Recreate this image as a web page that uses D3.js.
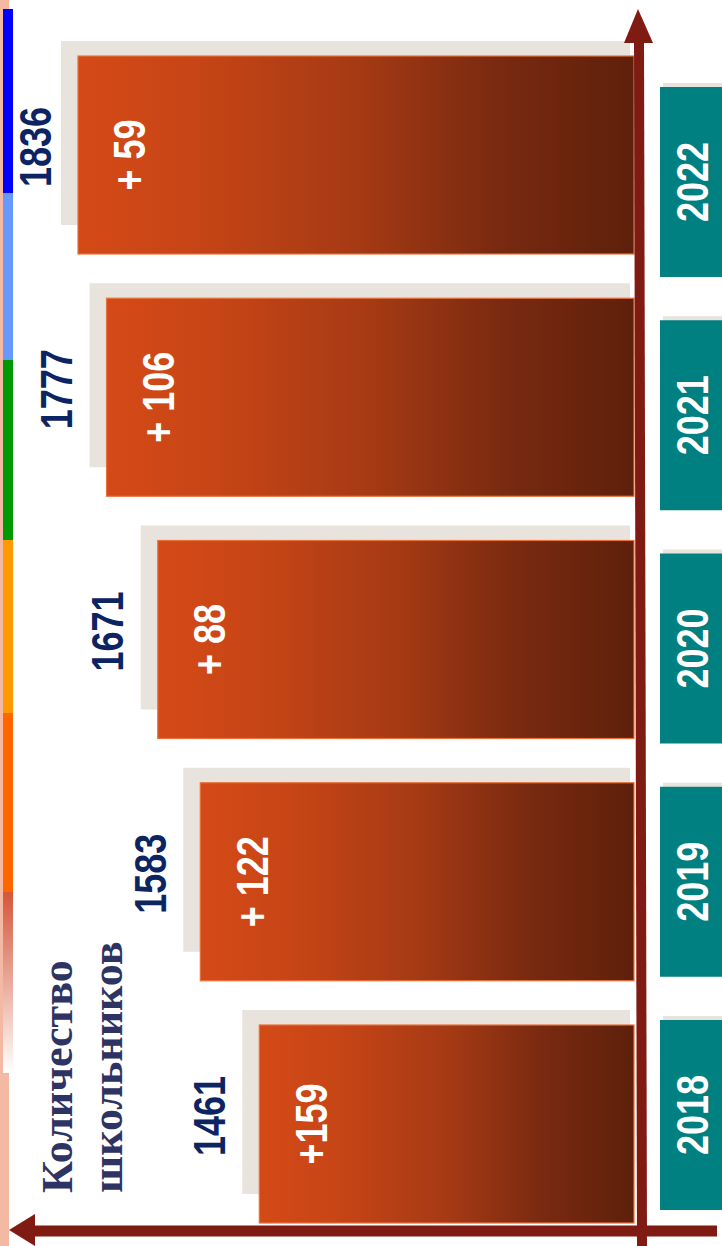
<!DOCTYPE html>
<html>
<head>
<meta charset="utf-8" />
<title>Количество школьников</title>
<script src="https://cdn.jsdelivr.net/npm/d3@7/dist/d3.min.js"></script>
<style>
  html, body { margin: 0; padding: 0; background: #fff; }
  svg { display: block; }
</style>
</head>
<body>
<div id="chart"></div>
<script>
// data
var years = ['2022', '2021', '2020', '2019', '2018'];
var pupils = [1836, 1777, 1671, 1583, 1461];
var growthLabels = ['+ 59', '+ 106', '+ 88', '+ 122', '+159'];
var axisTitle = ['Количество', 'школьников'];

var width = 722, height = 1246;
var baseX = 634;       // right end of bars
var barH = 198;

var svg = d3.select('#chart').append('svg')
  .attr('width', width)
  .attr('height', height);

var defs = svg.append('defs');
var grad = defs.append('linearGradient')
  .attr('id', 'barGrad')
  .attr('x1', '0').attr('y1', '0').attr('x2', '1').attr('y2', '0');
[[0, '#d44a17'], [0.2, '#c84516'], [0.5, '#a63a14'], [0.75, '#7a2a10'], [1, '#5e200b']]
  .forEach(function (s) {
    grad.append('stop').attr('offset', s[0]).attr('stop-color', s[1]);
  });
var fade = defs.append('linearGradient')
  .attr('id', 'fadeGrad')
  .attr('x1', '0').attr('y1', '0').attr('x2', '0').attr('y2', '1');
fade.append('stop').attr('offset', 0).attr('stop-color', '#d4563a');
fade.append('stop').attr('offset', 1).attr('stop-color', '#ffffff');

// left decorative stripe
svg.append('rect').attr('x', 0).attr('y', 0).attr('width', 3).attr('height', height).attr('fill', '#f4b9a2');
svg.append('rect').attr('x', 0).attr('y', 0).attr('width', 9).attr('height', 9).attr('fill', '#f4b9a2');
svg.append('rect').attr('x', 0).attr('y', 1073).attr('width', 9).attr('height', height - 1073).attr('fill', '#f4b9a2');
var stripe = [[9, 193, '#0000ff'], [193, 360, '#6699ff'], [360, 540, '#009900'],
              [540, 713, '#ff9900'], [713, 892, '#ff6600'], [892, 1073, 'url(#fadeGrad)']];
svg.selectAll('rect.stripe').data(stripe).enter().append('rect')
  .attr('class', 'stripe')
  .attr('x', 3).attr('width', 10)
  .attr('y', function (d) { return d[0]; })
  .attr('height', function (d) { return d[1] - d[0]; })
  .attr('fill', function (d) { return d[2]; });

// scales
var x = d3.scaleLinear().domain([686, 1836]).range([baseX, baseX - 556]);
var yBar = d3.scalePoint().domain(years).range([155, 1124]);
var yBox = d3.scalePoint().domain(years).range([182, 1115]);

var rows = years.map(function (y, i) {
  return { year: y, value: pupils[i], growth: growthLabels[i] };
});

// shadows
svg.selectAll('rect.shadow').data(rows).enter().append('rect')
  .attr('class', 'shadow')
  .attr('x', function (d) { return x(d.value) - 17; })
  .attr('y', function (d) { return yBar(d.year) - barH / 2 - 15; })
  .attr('width', function (d) { return baseX - 4 - (x(d.value) - 17); })
  .attr('height', barH - 14)
  .attr('fill', '#e8e4dd');

// bars
svg.selectAll('rect.bar').data(rows).enter().append('rect')
  .attr('class', 'bar')
  .attr('x', function (d) { return x(d.value); })
  .attr('y', function (d) { return yBar(d.year) - barH / 2; })
  .attr('width', function (d) { return baseX - x(d.value); })
  .attr('height', barH)
  .attr('fill', 'url(#barGrad)')
  .attr('stroke', '#e8703a')
  .attr('stroke-width', 1.2);

function vtext(sel, fs) {
  return sel
    .attr('text-anchor', 'middle')
    .attr('dy', '0.35em')
    .attr('font-family', '"Liberation Sans", Arial, sans-serif')
    .attr('font-weight', 'bold')
    .attr('font-size', fs + 'px');
}

// growth labels inside bars
vtext(svg.selectAll('text.growth').data(rows).enter().append('text'), 44)
  .attr('class', 'growth')
  .attr('fill', '#ffffff')
  .attr('transform', function (d) {
    return 'translate(' + (x(d.value) + 52) + ',' + yBar(d.year) + ') rotate(-90) scale(0.82,1)';
  })
  .text(function (d) { return d.growth; });

// value labels left of bars (kept clear of the left stripe)
vtext(svg.selectAll('text.value').data(rows).enter().append('text'), 44)
  .attr('class', 'value')
  .attr('fill', '#0c2461')
  .attr('transform', function (d) {
    var cx = Math.max(36, x(d.value) - 50);
    return 'translate(' + cx + ',' + (yBar(d.year) - 8) + ') rotate(-90) scale(0.82,1)';
  })
  .text(function (d) { return d.value; });

// year boxes
svg.selectAll('rect.boxShadow').data(rows).enter().append('rect')
  .attr('class', 'boxShadow')
  .attr('x', 663).attr('width', 60)
  .attr('y', function (d) { return yBox(d.year) - 95 - 4; })
  .attr('height', 190)
  .attr('fill', '#e8e4dd');
svg.selectAll('rect.box').data(rows).enter().append('rect')
  .attr('class', 'box')
  .attr('x', 660).attr('width', 62)
  .attr('y', function (d) { return yBox(d.year) - 95; })
  .attr('height', 190)
  .attr('fill', '#008080');
vtext(svg.selectAll('text.year').data(rows).enter().append('text'), 44)
  .attr('class', 'year')
  .attr('fill', '#ffffff')
  .attr('transform', function (d) {
    return 'translate(693,' + yBox(d.year) + ') rotate(-90) scale(0.82,1)';
  })
  .text(function (d) { return d.year; });

// axes with arrows
var axisColor = '#7f1b13';
svg.append('line')
  .attr('x1', 639).attr('y1', 40).attr('x2', 642).attr('y2', height)
  .attr('stroke', axisColor).attr('stroke-width', 10);
svg.append('path')
  .attr('d', 'M638,9 L653,43 L624,43 Z')
  .attr('fill', axisColor);
svg.append('line')
  .attr('x1', 32).attr('y1', 1231).attr('x2', 717).attr('y2', 1231)
  .attr('stroke', axisColor).attr('stroke-width', 11);
svg.append('path')
  .attr('d', 'M9,1230 L35,1214 L35,1246 Z')
  .attr('fill', axisColor);

// axis title
svg.selectAll('text.title').data(axisTitle).enter().append('text')
  .attr('class', 'title')
  .attr('transform', function (d, i) { return 'translate(' + (72 + i * 50) + ',1193) rotate(-90)'; })
  .attr('text-anchor', 'start')
  .attr('font-family', '"Liberation Serif", "Times New Roman", serif')
  .attr('font-weight', 'bold')
  .attr('font-size', '44px')
  .attr('fill', '#2d3464')
  .text(function (d) { return d; });
</script>
</body>
</html>
